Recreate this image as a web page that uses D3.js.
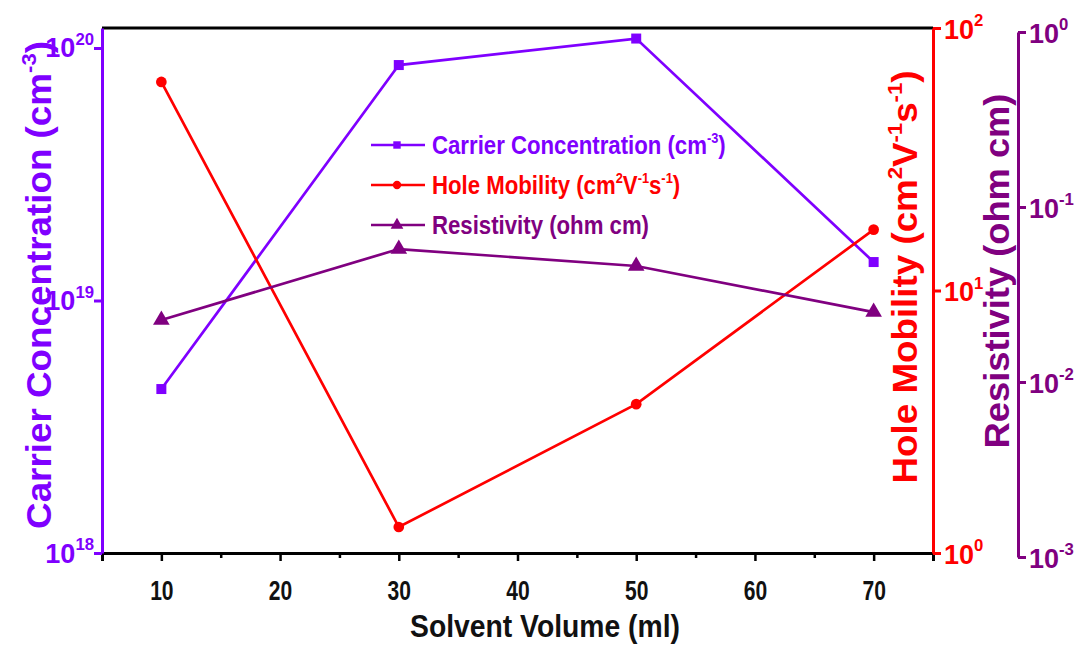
<!DOCTYPE html>
<html>
<head>
<meta charset="utf-8">
<script src="https://cdn.jsdelivr.net/npm/d3@7"></script>
<style>
  html, body { margin: 0; padding: 0; background: #fff; }
  svg { display: block; }
  .lbl { font-family: "Liberation Sans", Arial, sans-serif; font-weight: bold; }
</style>
</head>
<body>
<svg id="chart" width="1074" height="651"></svg>
<script>
// Solvent volume (ml) on the x axis
const volumes = [10, 30, 50, 70];
// Carrier concentration (cm^-3), left axis
const carrier = [4.46e18, 8.56e19, 1.09e20, 1.42e19];
// Hole mobility (cm^2 V^-1 s^-1), first right axis
const mobility = [62.3, 1.256, 3.69, 17.06];
// Resistivity (ohm cm), second right axis
const resistivity = [0.0226, 0.0575, 0.046, 0.0251];

const xTicks = [10, 20, 30, 40, 50, 60, 70];
const xMinorTicks = [5, 15, 25, 35, 45, 55, 65, 75];
const carrierTicks = [1e18, 1e19, 1e20];
const mobilityTicks = [1, 10, 100];
const resistivityTicks = [1e-3, 1e-2, 1e-1, 1];

const COL_CARRIER = "#7f00ff";
const COL_MOBILITY = "#ff0000";
const COL_RESIST = "#800080";
const NARROW = 0.78; // horizontal squeeze for the condensed label face

const svg = d3.select("#chart");

const plotL = 102, plotR = 933, plotT = 28, plotB = 553;
const purpleX = 1018, purpleT = 32, purpleB = 557;

const x = d3.scaleLinear().domain([5, 75]).range([plotL, plotR]);
const yCarrier = d3.scaleLog().domain([1e18, 1.2e20]).range([plotB, plotT]);
const yMobility = d3.scaleLog().domain([1, 100]).range([plotB, plotT]);
const yResist = d3.scaleLog().domain([1e-3, 1]).range([purpleB, purpleT]);

// writes rich text: parts with optional superscript, using pixel offsets
function richText(t, parts, size, supSize, rise) {
  let raised = false;
  parts.forEach(p => {
    const s = t.append("tspan").text(p.t);
    if (p.sup && !raised) { s.attr("dy", -rise).attr("font-size", supSize); raised = true; }
    else if (p.sup) { s.attr("font-size", supSize); }
    else if (raised) { s.attr("dy", rise); raised = false; }
  });
}

// "10" with a raised exponent
function powerLabel(sel, v, size) {
  const e = Math.round(Math.log10(v));
  sel.text("");
  sel.append("tspan").text("10");
  sel.append("tspan").attr("dy", -size * 0.45).attr("font-size", size * 0.62).text(e);
}

// top frame line
svg.append("line").attr("x1", plotL).attr("x2", plotR).attr("y1", plotT).attr("y2", plotT)
  .attr("stroke", "#000").attr("stroke-width", 3);

// bottom axis
const xAxis = d3.axisBottom(x).tickValues(xTicks).tickSize(8).tickFormat(d3.format("d"));
const gx = svg.append("g").attr("transform", `translate(0,${plotB})`).call(xAxis);
gx.select(".domain").attr("stroke", "#000").attr("stroke-width", 3);
gx.selectAll(".tick line").attr("stroke", "#000").attr("stroke-width", 2.5);
gx.selectAll(".tick text").attr("class", "lbl").attr("font-size", 27).attr("fill", "#111")
  .attr("y", 0).attr("dy", 0)
  .attr("transform", `translate(0,47) scale(${NARROW},1)`);
const gxm = svg.append("g").attr("transform", `translate(0,${plotB})`)
  .call(d3.axisBottom(x).tickValues(xMinorTicks).tickSize(5).tickFormat(""));
gxm.select(".domain").remove();
gxm.selectAll(".tick line").attr("stroke", "#000").attr("stroke-width", 2.5);

// left axis (carrier concentration)
const TICK_FS = 27;
const gl = svg.append("g").attr("transform", `translate(${plotL},0)`)
  .call(d3.axisLeft(yCarrier).tickValues(carrierTicks).tickSize(8).tickSizeOuter(0));
gl.select(".domain").attr("stroke", COL_CARRIER).attr("stroke-width", 3);
gl.selectAll(".tick line").attr("stroke", COL_CARRIER).attr("stroke-width", 3);
gl.selectAll(".tick text").attr("class", "lbl").attr("font-size", TICK_FS).attr("fill", COL_CARRIER)
  .attr("x", -8).attr("dy", 0).attr("y", 9)
  .each(function(d) { powerLabel(d3.select(this), d, TICK_FS); });

// right axis (hole mobility)
const gr = svg.append("g").attr("transform", `translate(${plotR},0)`)
  .call(d3.axisRight(yMobility).tickValues(mobilityTicks).tickSize(8).tickSizeOuter(0));
gr.select(".domain").attr("stroke", COL_MOBILITY).attr("stroke-width", 3);
gr.selectAll(".tick line").attr("stroke", COL_MOBILITY).attr("stroke-width", 3);
gr.selectAll(".tick text").attr("class", "lbl").attr("font-size", TICK_FS).attr("fill", COL_MOBILITY)
  .attr("x", 11).attr("dy", 0).attr("y", 10)
  .each(function(d) { powerLabel(d3.select(this), d, TICK_FS); });

// offset right axis (resistivity)
const gp = svg.append("g").attr("transform", `translate(${purpleX},0)`)
  .call(d3.axisRight(yResist).tickValues(resistivityTicks).tickSize(8).tickSizeOuter(0));
gp.select(".domain").attr("stroke", COL_RESIST).attr("stroke-width", 3);
gp.selectAll(".tick line").attr("stroke", COL_RESIST).attr("stroke-width", 3);
gp.selectAll(".tick text").attr("class", "lbl").attr("font-size", TICK_FS).attr("fill", COL_RESIST)
  .attr("x", 11).attr("dy", 0).attr("y", 10)
  .each(function(d) { powerLabel(d3.select(this), d, TICK_FS); });

// rotated axis titles, stretched to a given length along the axis
function rotatedTitle(bx, cy, color, size, length, parts) {
  const t = svg.append("text").attr("class", "lbl").attr("font-size", size).attr("fill", color)
    .attr("text-anchor", "middle");
  richText(t, parts, size, size * 0.6, size * 0.42);
  const k = length / t.node().getComputedTextLength();
  t.attr("transform", `translate(${bx},${cy}) rotate(-90) scale(${k},1)`);
  return t;
}
rotatedTitle(51, 285, COL_CARRIER, 35, 488, [
  { t: "Carrier Concentration (cm" }, { t: "-3", sup: true }, { t: ")" }
]);
rotatedTitle(917, 277, COL_MOBILITY, 35, 413, [
  { t: "Hole Mobility (cm" }, { t: "2", sup: true }, { t: "V" },
  { t: "-1", sup: true }, { t: "s" }, { t: "-1", sup: true }, { t: ")" }
]);
rotatedTitle(1009, 271, COL_RESIST, 35, 355, [{ t: "Resistivity (ohm cm)" }]);

// x axis title
const xt = svg.append("text").attr("class", "lbl").attr("font-size", 32).attr("fill", "#111")
  .attr("text-anchor", "middle").text("Solvent Volume (ml)");
xt.attr("transform", `translate(545,637) scale(${270 / xt.node().getComputedTextLength()},1)`);

// series
const series = [
  { values: carrier, y: yCarrier, color: COL_CARRIER, marker: d3.symbolSquare, size: 100 },
  { values: mobility, y: yMobility, color: COL_MOBILITY, marker: d3.symbolCircle, size: 90 },
  { values: resistivity, y: yResist, color: COL_RESIST, marker: d3.symbolTriangle, size: 120 }
];

series.forEach(s => {
  const pts = volumes.map((v, i) => [x(v), s.y(s.values[i])]);
  svg.append("path").attr("d", d3.line()(pts)).attr("fill", "none")
    .attr("stroke", s.color).attr("stroke-width", 2.7);
  svg.append("g").selectAll("path").data(pts).join("path")
    .attr("transform", d => `translate(${d[0]},${d[1]})`)
    .attr("d", d3.symbol().type(s.marker).size(s.size)).attr("fill", s.color);
});

// legend
const legendRows = [
  { color: COL_CARRIER, marker: d3.symbolSquare, size: 55,
    parts: [{ t: "Carrier Concentration (cm" }, { t: "-3", sup: true }, { t: ")" }] },
  { color: COL_MOBILITY, marker: d3.symbolCircle, size: 55,
    parts: [{ t: "Hole Mobility (cm" }, { t: "2", sup: true }, { t: "V" },
            { t: "-1", sup: true }, { t: "s" }, { t: "-1", sup: true }, { t: ")" }] },
  { color: COL_RESIST, marker: d3.symbolTriangle, size: 70,
    parts: [{ t: "Resistivity (ohm cm)" }] }
];
const LEG_FS = 26;
const lg = svg.append("g").attr("transform", "translate(371,145)");
let legK = null;
legendRows.forEach((r, i) => {
  const g = lg.append("g").attr("transform", `translate(0,${i * 40})`);
  g.append("line").attr("x1", 0).attr("x2", 54).attr("stroke", r.color).attr("stroke-width", 2.7);
  g.append("path").attr("transform", "translate(26,0)").attr("d", d3.symbol().type(r.marker).size(r.size)).attr("fill", r.color);
  const t = g.append("text").attr("class", "lbl").attr("font-size", LEG_FS).attr("fill", r.color)
    .attr("y", 9);
  richText(t, r.parts, LEG_FS, 15, 11);
  if (legK === null) legK = 294 / t.node().getComputedTextLength();
  t.attr("transform", `translate(61,0) scale(${legK},1)`);
});
</script>
</body>
</html>
